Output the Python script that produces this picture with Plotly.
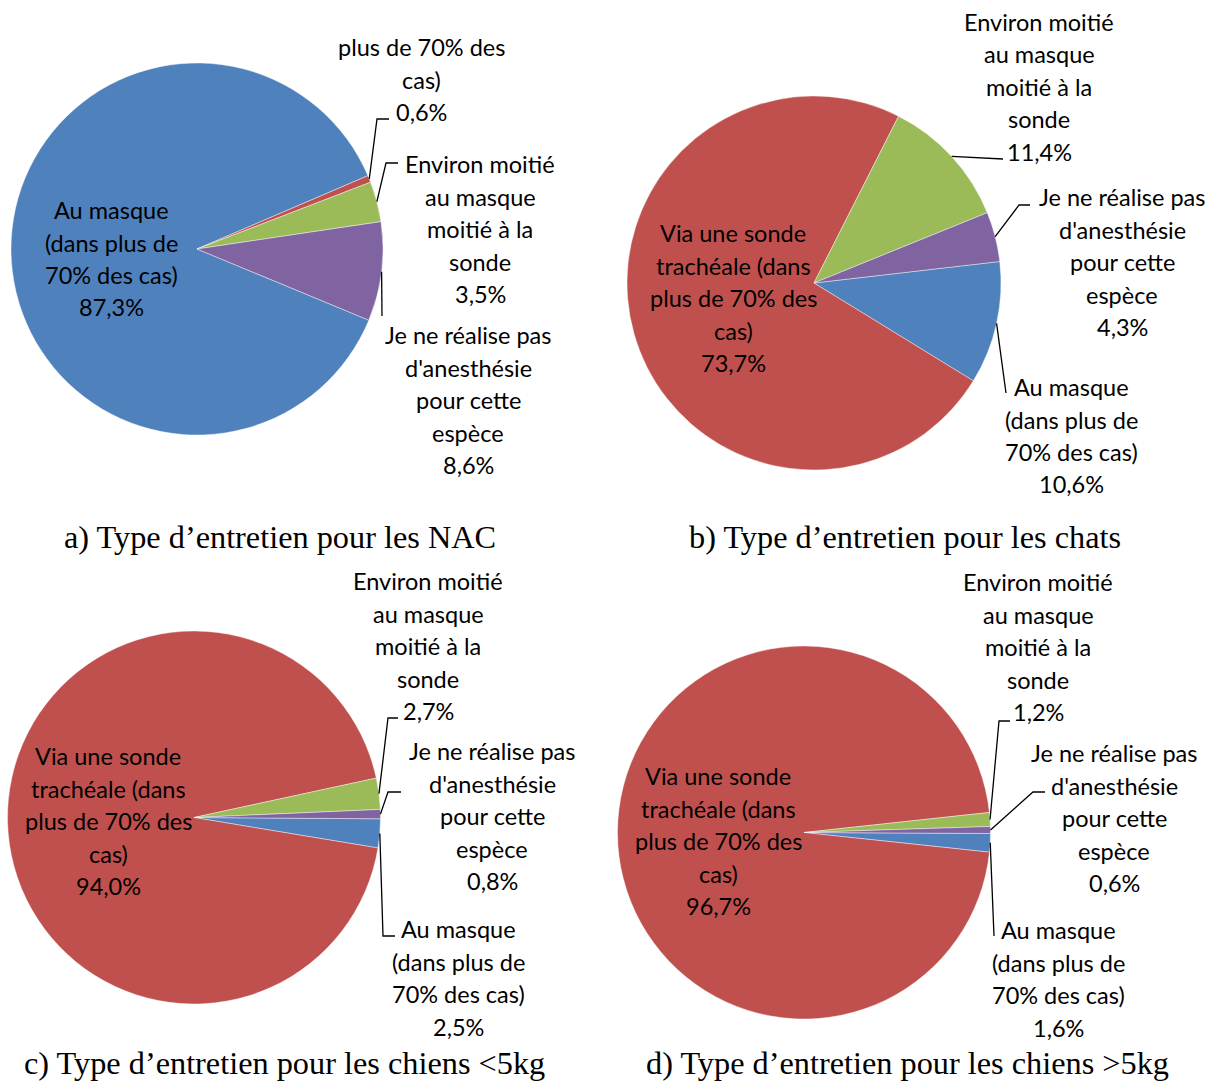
import math
import plotly.graph_objects as go

# --- data -----------------------------------------------------------------
categories = [
    "Au masque (dans plus de 70% des cas)",
    "Via une sonde trachéale (dans plus de 70% des cas)",
    "Environ moitié au masque moitié à la sonde",
    "Je ne réalise pas d'anesthésie pour cette espèce",
]
# wrapped label lines for each category (value line is appended)
label_lines = [
    ["Au masque", "(dans plus de", "70% des cas)"],
    ["Via une sonde", "trachéale (dans", "plus de 70% des", "cas)"],
    ["Environ moitié", "au masque", "moitié à la", "sonde"],
    ["Je ne réalise pas", "d'anesthésie", "pour cette", "espèce"],
]
colors = ["#4F81BD", "#C0504D", "#9BBB59", "#8064A2"]

values_nac = [87.3, 0.6, 3.5, 8.6]
values_chats = [10.6, 73.7, 11.4, 4.3]
values_chiens_moins5 = [2.5, 94.0, 2.7, 0.8]
values_chiens_plus5 = [1.6, 96.7, 1.2, 0.6]

titles = [
    "a) Type d’entretien pour les NAC",
    "b) Type d’entretien pour les chats",
    "c) Type d’entretien pour les chiens <5kg",
    "d) Type d’entretien pour les chiens >5kg",
]

# --- layout (pixels) ------------------------------------------------------
W, H = 1212, 1081
LINE_H = 32.5
LABEL_FONT = dict(family="Lato, 'Open Sans', sans-serif", size=23.5, color="black")
TITLE_FONT = dict(family="'Liberation Serif', 'Times New Roman', serif", size=32.3, color="black")

# each panel: pie centre/radius, first-slice rotation, title position,
# and per-slice label placement: (x centre, y of first line, lines skipped, leader elbow points)
panels = [
    dict(values=values_nac, cx=197, cy=249, r=186, rot=112.5, title_xy=(280, 537),
         labels=[
             dict(x=111, y=210, skip=0, leader=None),
             dict(x=421, y=47, skip=2, leader=[(377, 119), (389, 119)]),
             dict(x=480, y=164, skip=0, leader=[(386, 163), (398, 163)]),
             dict(x=468, y=335, skip=0, leader=[(382, 316)]),
         ]),
    dict(values=values_chats, cx=814, cy=283, r=187, rot=83.4, title_xy=(905, 537),
         labels=[
             dict(x=1071, y=387, skip=0, leader=[(1006, 393)]),
             dict(x=733, y=233, skip=0, leader=None),
             dict(x=1039, y=22, skip=0, leader=[(1003, 159)]),
             dict(x=1122, y=197, skip=0, leader=[(1019, 205), (1030, 205)]),
         ]),
    dict(values=values_chiens_moins5, cx=194, cy=817.5, r=186.5, rot=90.4, title_xy=(284, 1063),
         labels=[
             dict(x=458, y=929, skip=0, leader=[(383, 936), (395, 936)]),
             dict(x=108, y=756, skip=0, leader=None),
             dict(x=428, y=581, skip=0, leader=[(388, 718), (398, 718)]),
             dict(x=492, y=751, skip=0, leader=[(388, 792), (401, 792)]),
         ]),
    dict(values=values_chiens_plus5, cx=804, cy=832.5, r=186.5, rot=90.3, title_xy=(907, 1063),
         labels=[
             dict(x=1058, y=930, skip=0, leader=[(994, 936)]),
             dict(x=718, y=776, skip=0, leader=None),
             dict(x=1038, y=582, skip=0, leader=[(999, 721), (1010, 721)]),
             dict(x=1114, y=753, skip=0, leader=[(1033, 792), (1045, 792)]),
         ]),
]


def px(x):
    return x / W


def py(y):
    return 1 - y / H


def pct(v):
    return f"{v:.1f}".replace(".", ",") + "%"


fig = go.Figure()
annotations = []
shapes = []

for idx, p in enumerate(panels):
    vals = p["values"]
    cx, cy, r = p["cx"], p["cy"], p["r"]
    fig.add_trace(go.Pie(
        labels=categories,
        values=vals,
        sort=False,
        direction="clockwise",
        rotation=p["rot"],
        marker=dict(colors=colors, line=dict(color="rgba(255,255,255,0.7)", width=0.6)),
        textinfo="none",
        hoverinfo="label+percent",
        showlegend=False,
        domain=dict(x=[px(cx - r), px(cx + r)], y=[py(cy + r), py(cy - r)]),
    ))

    total = sum(vals)
    cum = 0.0
    for i, v in enumerate(vals):
        spec = p["labels"][i]
        lines = label_lines[i] + [pct(v)]
        for k, line in enumerate(lines[spec["skip"]:]):
            annotations.append(dict(
                x=px(spec["x"]), y=py(spec["y"] + k * LINE_H),
                xref="paper", yref="paper", text=line, showarrow=False,
                xanchor="center", yanchor="middle", font=LABEL_FONT,
            ))
        # leader line from the middle of the slice's outer arc
        mid = math.radians(p["rot"] + 360.0 * (cum + v / 2.0) / total)
        if spec["leader"]:
            pts = [(cx + r * math.sin(mid), cy - r * math.cos(mid))] + spec["leader"]
            path = "M " + " L ".join(f"{px(a):.5f},{py(b):.5f}" for a, b in pts)
            shapes.append(dict(type="path", xref="paper", yref="paper", path=path,
                               line=dict(color="black", width=1.3)))
        cum += v

    tx, ty = p["title_xy"]
    annotations.append(dict(
        x=px(tx), y=py(ty), xref="paper", yref="paper", text=titles[idx],
        showarrow=False, xanchor="center", yanchor="middle", font=TITLE_FONT,
    ))

fig.update_layout(
    width=W, height=H,
    margin=dict(l=0, r=0, t=0, b=0),
    paper_bgcolor="white", plot_bgcolor="white",
    annotations=annotations, shapes=shapes,
)

fig.write_html("out.html")
